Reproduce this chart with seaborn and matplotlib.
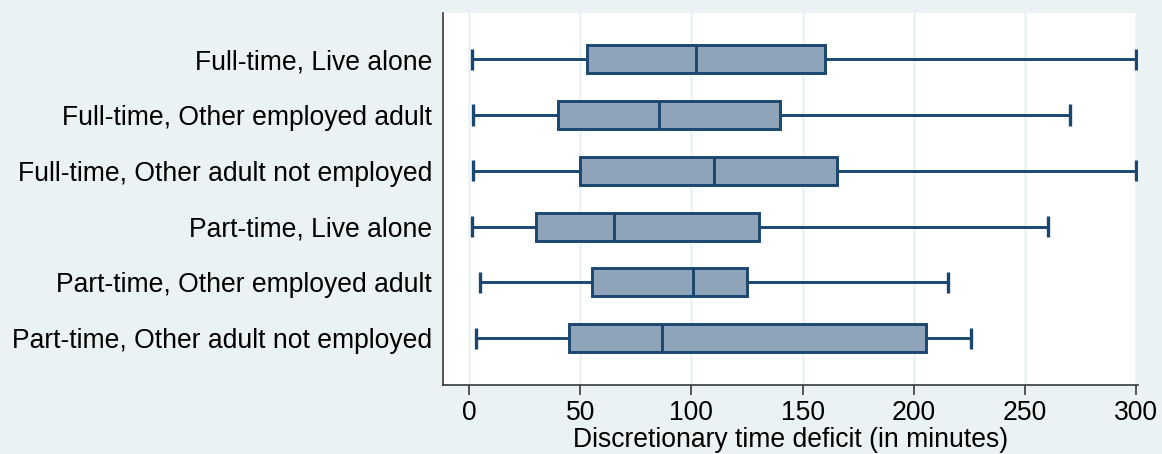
import numpy as np
import pandas as pd
import seaborn as sns
import matplotlib
matplotlib.use("Agg")
import matplotlib.pyplot as plt

# Five-number summaries of the discretionary time deficit (minutes) per group
groups = [
    "Full-time, Live alone",
    "Full-time, Other employed adult",
    "Full-time, Other adult not employed",
    "Part-time, Live alone",
    "Part-time, Other employed adult",
    "Part-time, Other adult not employed",
]
lower_adj = [1.4, 1.9, 1.9, 1.3, 5.0, 3.2]
q1 = [53.0, 40.0, 50.0, 30.2, 55.4, 45.0]
median = [102.0, 85.3, 110.3, 65.3, 100.5, 86.8]
q3 = [160.0, 140.0, 165.3, 130.6, 125.0, 205.6]
upper_adj = [300.0, 270.0, 300.0, 260.4, 215.3, 225.8]
x_ticks = [0, 50, 100, 150, 200, 250, 300]
x_title = "Discretionary time deficit (in minutes)"

# With five points per group, linear percentiles land exactly on q1/median/q3
rows = []
for g, a, b, c, d, e in zip(groups, lower_adj, q1, median, q3, upper_adj):
    for v in (a, b, c, d, e):
        rows.append({"group": g, "deficit": v})
df = pd.DataFrame(rows)

BG = "#eaf2f3"
NAVY = "#1a476f"
FILL = "#8fa4b8"
AXIS = "#3a3a3a"
FS = 19.1

sns.set_theme(style="white")
plt.rcParams["font.family"] = ["Liberation Sans", "DejaVu Sans"]

fig = plt.figure(figsize=(11.62, 4.54), dpi=100, facecolor=BG)
ax = fig.add_axes([443 / 1162, 1 - 385 / 454, (1138 - 443) / 1162, (385 - 13) / 454])
ax.set_facecolor("white")

sns.boxplot(
    data=df, x="deficit", y="group", order=groups, orient="h",
    whis=(0, 100), width=0.5, saturation=1, color=FILL, linecolor=NAVY,
    linewidth=2.1, fliersize=0, ax=ax,
)

# Shorten the whisker caps
cap_half = 0.19
for ln in ax.lines:
    xd = np.asarray(ln.get_xdata(), dtype=float)
    yd = np.asarray(ln.get_ydata(), dtype=float)
    if len(xd) == 2 and np.isclose(xd[0], xd[1]):
        xv = xd[0]
        if any(np.isclose(xv, v) for v in lower_adj + upper_adj):
            yc = yd.mean()
            ln.set_ydata([yc - cap_half, yc + cap_half])
            ln.set_linewidth(2.4)
    ln.set_solid_capstyle("butt")

ax.set_xlim(-11.7, 300.8)
ax.set_ylim(5.84, -0.83)
ax.set_xticks(x_ticks)
ax.set_xticklabels([str(t) for t in x_ticks])
ax.grid(axis="x", color=BG, linewidth=1.8, zorder=0)
ax.set_axisbelow(True)

for side in ("top", "right"):
    ax.spines[side].set_visible(False)
for side in ("left", "bottom"):
    ax.spines[side].set_color(AXIS)
    ax.spines[side].set_linewidth(1.2)

ax.tick_params(axis="x", length=7.2, width=1.2, color=AXIS, pad=3.5,
               labelsize=FS, labelcolor="black", bottom=True)
ax.tick_params(axis="y", length=0, pad=8, labelsize=FS, labelcolor="black")
ax.set_ylabel("")
ax.set_xlabel(x_title, fontsize=FS, color="black", labelpad=1)

fig.savefig("out.png", dpi=100, facecolor=BG)
